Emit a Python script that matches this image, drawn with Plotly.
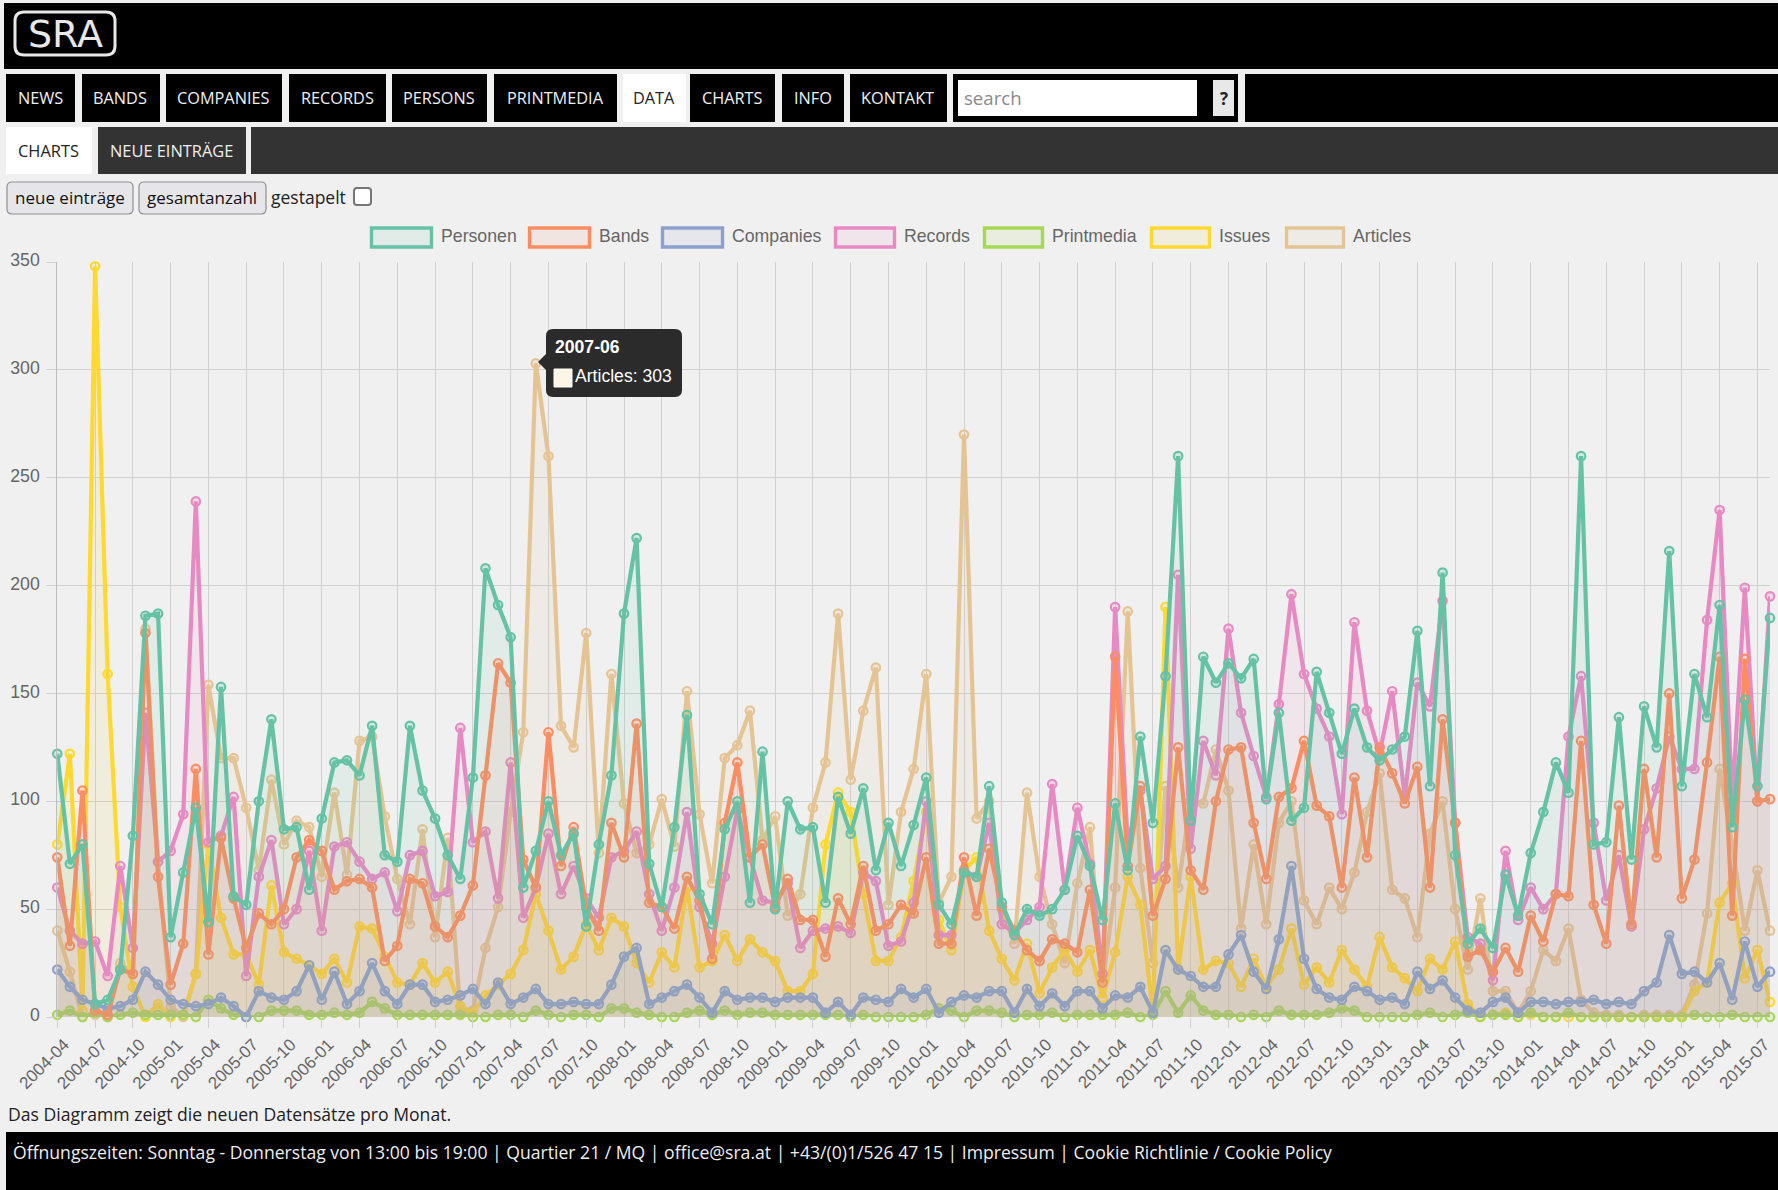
import plotly.graph_objects as go

W, H = 1778, 1190

months = [f"{2004 + (3 + k) // 12}-{(3 + k) % 12 + 1:02d}" for k in range(137)]
tick_labels = months[::3]
y_ticks = [0, 50, 100, 150, 200, 250, 300, 350]

personen = [122,71,80,6,8,22,84,186,187,37,
67,97,44,153,56,52,100,138,87,88,
59,92,118,119,112,135,75,72,135,105,
92,75,64,111,208,191,176,60,77,100,
75,85,42,80,112,187,222,71,51,88,
140,57,43,87,100,53,123,50,100,87,
88,53,102,85,106,68,90,70,89,111,
52,43,67,65,107,53,38,50,47,50,
59,84,70,45,99,68,130,90,158,260,
91,167,155,164,157,166,101,141,91,97,
160,141,122,143,125,119,124,130,179,107,
206,75,34,41,32,66,47,76,95,118,
104,260,80,81,139,73,144,125,216,107,
159,139,191,88,147,107,185]

bands = [74,33,105,3,1,22,20,178,65,15,
34,115,29,83,55,32,48,43,50,74,
82,77,59,63,64,60,26,33,64,62,
42,37,47,61,112,164,155,73,60,132,
70,88,51,40,90,74,136,53,51,41,
65,54,27,90,118,74,80,51,64,45,
45,28,55,43,70,40,43,52,48,74,
34,34,74,47,78,51,40,31,26,36,
34,30,59,16,167,70,107,47,64,125,
68,59,100,124,125,90,64,102,106,128,
98,93,60,111,74,125,113,99,116,60,
138,90,28,31,21,32,21,47,35,57,
56,128,52,34,98,43,115,74,150,55,
73,118,167,47,166,100,101]

companies = [22,14,8,6,4,5,8,21,15,8,
6,5,6,9,5,0,12,9,8,12,
24,8,21,6,12,25,12,6,15,15,
7,8,10,13,6,16,6,9,13,6,
6,7,6,6,15,28,32,6,9,12,
15,9,2,12,8,9,9,7,9,9,
9,2,7,1,9,8,7,13,9,13,
2,7,10,9,12,12,2,13,5,11,
5,12,12,4,10,9,14,2,31,22,
19,14,14,29,38,21,13,36,70,27,
13,9,8,14,12,8,9,6,21,13,
17,9,3,2,7,9,2,7,7,6,
7,7,8,6,7,6,12,16,38,20,
21,16,25,8,35,14,21]

records = [60,40,34,35,19,70,32,141,72,77,
94,239,81,84,102,19,65,82,43,50,
77,40,79,81,72,64,67,49,75,77,
56,58,134,81,86,55,118,46,60,85,
57,70,55,46,74,77,86,57,40,60,
95,51,34,65,96,74,54,53,62,32,
40,41,42,39,67,63,33,35,53,100,
38,38,68,65,90,43,39,45,51,108,
59,97,71,20,190,80,105,64,70,205,
78,128,112,180,141,121,102,145,196,159,
143,130,94,183,142,122,151,102,155,144,
193,90,37,34,17,77,45,60,50,57,
130,158,90,54,75,42,87,106,130,115,
115,184,235,100,199,100,195]

printmedia = [1,3,0,2,0,1,2,1,1,1,
1,0,8,4,1,0,0,3,3,3,
1,1,2,1,2,7,4,1,1,1,
1,1,1,0,0,1,1,0,3,1,
0,1,1,0,4,4,2,1,0,0,
2,3,1,3,1,2,2,1,1,1,
1,1,1,0,1,0,0,0,0,1,
4,3,0,3,3,2,0,1,1,2,
0,1,1,1,1,2,0,1,12,2,
10,3,1,1,0,1,0,3,1,1,
1,2,4,3,0,0,0,0,1,2,
0,1,2,0,1,1,0,2,0,0,
2,0,0,0,0,0,0,0,0,0,
1,0,0,1,0,0,0]

issues = [80,122,3,348,159,51,14,0,6,0,
1,20,80,46,29,29,15,61,30,27,
24,20,27,16,42,41,28,16,15,25,
16,21,5,2,10,15,20,31,57,40,
22,28,43,31,46,42,25,16,30,23,
60,23,26,38,26,36,30,26,12,12,
20,80,104,95,57,26,26,37,63,95,
45,31,68,74,40,27,17,34,11,23,
31,21,31,9,30,65,52,2,190,22,
65,22,26,25,14,27,14,22,41,15,
23,16,31,22,14,37,23,18,12,27,
22,35,6,0,1,2,0,1,0,0,
0,0,0,0,0,0,0,0,0,0,
12,16,53,62,18,31,7]

articles = [40,21,0,1,0,25,20,180,72,5,
0,20,154,120,120,97,68,110,80,91,
88,65,104,66,128,130,93,64,43,87,
37,83,2,3,32,51,95,132,303,260,
135,125,178,76,159,99,76,80,101,79,
151,94,62,120,126,142,82,93,47,57,
97,118,187,110,142,162,52,95,115,159,
53,65,270,92,100,50,34,104,65,43,
25,62,88,15,60,188,69,25,107,60,
100,99,124,105,41,80,43,90,100,54,
43,60,50,67,95,113,59,55,37,85,
100,50,22,55,12,12,2,12,31,26,
41,8,2,1,1,0,1,1,1,1,
15,48,115,80,40,68,40]

series_names = ["Personen", "Bands", "Companies", "Records", "Printmedia", "Issues", "Articles"]
series_values = [personen, bands, companies, records, printmedia, issues, articles]
series_rgb = [(102,194,165), (252,141,98), (141,160,203), (231,138,195), (166,216,84), (255,217,47), (229,196,148)]

nav_items = ["NEWS", "BANDS", "COMPANIES", "RECORDS", "PERSONS", "PRINTMEDIA", "DATA", "CHARTS", "INFO", "KONTAKT"]
nav_spans = [(6,75),(82,160),(166,282),(289,386),(392,487),(494,617),(623,686),(690,775),(782,844),(850,947)]
legend_boxes = [(370,433),(528,591),(661,724),(834,896),(983,1044),(1150,1211),(1285,1345)]

fig = go.Figure()

def px(x): return x / W
def py(y): return 1 - y / H

shapes, annots = [], []

def rect(x0, y0, x1, y1, fill, line=None, lw=0, layer="below"):
    shapes.append(dict(type="rect", xref="paper", yref="paper", x0=px(x0), x1=px(x1), y0=py(y0), y1=py(y1),
                       fillcolor=fill, line=dict(color=line or "rgba(0,0,0,0)", width=lw), layer=layer))

def rrect(x0, y0, x1, y1, r, fill, line=None, lw=0, layer="below"):
    rx, ry = r / W, r / H
    a, b, c, d = px(x0), px(x1), py(y0), py(y1)
    path = (f"M {a+rx} {c} L {b-rx} {c} Q {b} {c} {b} {c-ry} L {b} {d+ry} Q {b} {d} {b-rx} {d} "
            f"L {a+rx} {d} Q {a} {d} {a} {d+ry} L {a} {c-ry} Q {a} {c} {a+rx} {c} Z")
    shapes.append(dict(type="path", xref="paper", yref="paper", path=path, fillcolor=fill,
                       line=dict(color=line or "rgba(0,0,0,0)", width=lw), layer=layer))

def text(x, y, s, size=16, color="#222", font="Open Sans", anchor="left", bold=False):
    annots.append(dict(xref="paper", yref="paper", x=px(x), y=py(y), text=f"<b>{s}</b>" if bold else s,
                       showarrow=False, xanchor=anchor, yanchor="middle",
                       font=dict(family=font, size=size, color=color), borderpad=0))

# header
rect(4, 3, W, 69, "#000000")
rrect(15, 12, 115, 55, 9, "rgba(0,0,0,0)", "#e8e8e8", 3)
text(65, 34, "SRA", size=38, color="#e8e8e8", font="DejaVu Sans", anchor="center")

# nav
for name, (a, b) in zip(nav_items, nav_spans):
    active = name == "DATA"
    rect(a, 74, b, 122, "#ffffff" if active else "#000000")
    text((a + b) / 2 - 0.5, 97.5, name, size=16.3, color="#222" if active else "#f0f0f0", anchor="center")
rect(953, 74, 1238, 122, "#000000")
rect(958, 80, 1197, 116, "#ffffff")
text(963, 97, "search", size=18.6, color="#8a8a8a")
rect(1213, 80, 1234, 116, "#e8e8e8")
text(1223.5, 98, "?", size=17, color="#222", anchor="center", bold=True)
rect(1245, 74, W, 122, "#000000")

# sub nav
rect(6, 127, 92, 174, "#ffffff")
text(48.5, 150.5, "CHARTS", size=16.4, color="#222", anchor="center")
rect(98, 127, 246, 174, "#333333")
text(171, 150.5, "NEUE EINTRÄGE", size=16.4, color="#eeeeee", anchor="center")
rect(251, 127, W, 174, "#333333")

# buttons
rrect(7, 182, 133, 214, 5, "#e6e6ea", "#8f8f8f", 1.2)
text(70, 198, "neue einträge", size=17, color="#111", anchor="center")
rrect(139, 182, 266, 214, 5, "#e6e6ea", "#8f8f8f", 1.2)
text(202, 198, "gesamtanzahl", size=17, color="#111", anchor="center")
text(270, 197.5, "gestapelt", size=17.5, color="#222")
rrect(354, 188, 371, 205, 3, "#ffffff", "#767676", 2)

# legend
for name, rgb, (a, b) in zip(series_names, series_rgb, legend_boxes):
    r, g, bl = rgb
    rect(a + 1.5, 228, b - 1.5, 247, f"rgba({r},{g},{bl},0.1)", f"rgb({r},{g},{bl})", 3.4)
    text(b + 7, 236, name, size=17.7, color="#666666", font="Liberation Sans")

# footer
text(6.5, 1114, "Das Diagramm zeigt die neuen Datensätze pro Monat.", size=17.6, color="#222")
rect(6, 1132, W, H, "#000000")
text(12, 1152, "Öffnungszeiten: Sonntag - Donnerstag von 13:00 bis 19:00 | Quartier 21 / MQ | office@sra.at | +43/(0)1/526 47 15 | Impressum | Cookie Richtlinie / Cookie Policy",
     size=17.6, color="#eeeeee")

# tooltip
rrect(546, 329, 682, 397, 7, "#2b2b2b", layer="above")
shapes.append(dict(type="path", xref="paper", yref="paper", layer="above", fillcolor="#2b2b2b",
                   line=dict(color="rgba(0,0,0,0)", width=0),
                   path=f"M {px(547)} {py(353)} L {px(538)} {py(362)} L {px(547)} {py(371)} Z"))
text(554, 347, "2007-06", size=17.6, color="#ffffff", font="Liberation Sans", bold=True)
rect(554, 369, 572, 387, "#fdf6e6", "#ffffff", 1, layer="above")
text(574, 376, "Articles: 303", size=17.6, color="#ffffff", font="Liberation Sans")

# chart: drawn in reverse so that the first series sits on top
for name, vals, (r, g, b) in reversed(list(zip(series_names, series_values, series_rgb))):
    assert len(vals) == len(months), (name, len(vals))
    c = f"rgb({r},{g},{b})"
    fig.add_trace(go.Scatter(
        x=months, y=vals, name=name, mode="lines+markers", cliponaxis=False,
        line=dict(color=c, width=4.2), fill="tozeroy", fillcolor=f"rgba({r},{g},{b},0.1)",
        marker=dict(symbol="circle", size=8.5, color=f"rgba({r},{g},{b},0.2)", line=dict(color=c, width=2.2)),
    ))

GRID = "#d0d0d0"
fig.update_layout(
    width=W, height=H, autosize=False, showlegend=False,
    margin=dict(l=0, r=0, t=0, b=0, pad=0),
    paper_bgcolor="#f0f0f0", plot_bgcolor="rgba(0,0,0,0)",
    shapes=shapes, annotations=annots,
    xaxis=dict(domain=[px(57.3), px(1770)], type="category", categoryorder="array", categoryarray=months,
               automargin=False, ticklabelshift=7,
               range=[0, 136], tickmode="array", tickvals=tick_labels, ticktext=tick_labels,
               tickangle=-45, ticks="outside", ticklen=10, tickcolor=GRID, showgrid=True, gridcolor=GRID,
               gridwidth=1, zeroline=False, showline=False,
               tickfont=dict(family="Liberation Sans", size=17, color="#666666")),
    yaxis=dict(domain=[py(1017), py(262)], range=[0, 350], tickmode="array", tickvals=y_ticks,
               automargin=False, ticklabelshift=-2, ticklabelstandoff=3,
               ticks="outside", ticklen=10, tickcolor=GRID, showgrid=True, gridcolor=GRID, gridwidth=1,
               zeroline=False, showline=True, linecolor="#bdbdbd", linewidth=1,
               tickfont=dict(family="Liberation Sans", size=17.7, color="#666666")),
)

fig.write_html("out.html", config={"displayModeBar": False},
               post_script="document.body.style.margin='0';document.body.style.overflow='hidden';document.body.style.background='#f0f0f0';")
